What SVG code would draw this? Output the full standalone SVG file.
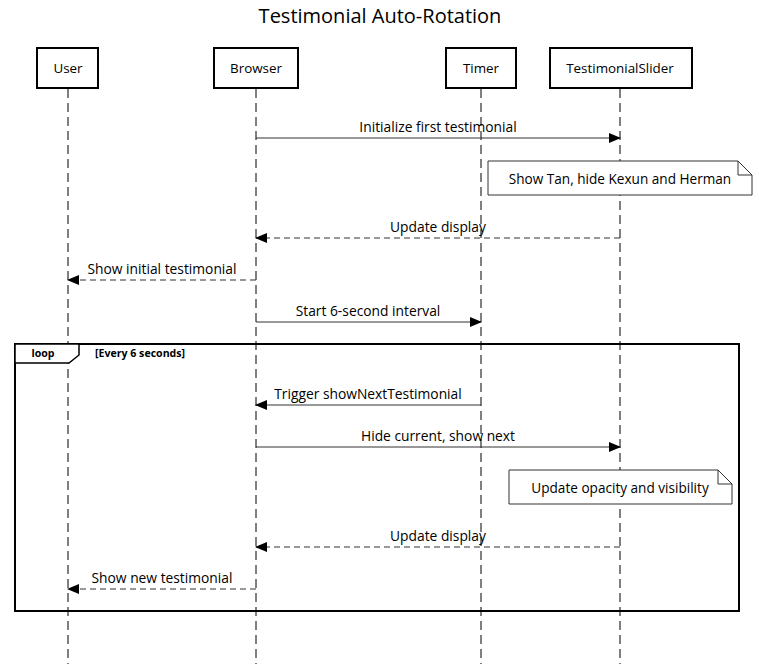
<svg xmlns="http://www.w3.org/2000/svg" width="759" height="664" viewBox="0 0 759 664">
<style>
text{font-family:"Open Sans","Noto Sans","Liberation Sans",sans-serif;fill:#000}
.title{font-size:20px;text-anchor:middle}
.actor rect{fill:#fff;stroke:#000;stroke-width:2}
.actor text{font-size:13.4px;text-anchor:middle;dominant-baseline:central}
.life{stroke:#000;stroke-width:1;stroke-dasharray:9,5}
.msg{stroke:#333;stroke-width:1;fill:none}
.dash{stroke-dasharray:6,4}
.mt{font-size:13.8px;text-anchor:middle}
.note path{fill:#fff;stroke:#333;stroke-width:1}
.note text{font-size:13.6px;text-anchor:middle;dominant-baseline:central}
.loop{fill:none;stroke:#000;stroke-width:2}
.lbl{font-size:10.6px;font-weight:bold}
</style>
<defs>
<marker id="ah" markerWidth="12" markerHeight="10" refX="11" refY="5" orient="auto" markerUnits="userSpaceOnUse">
<path d="M0,0 L12,5 L0,10 Z" fill="#000"/>
</marker>
</defs>
<rect width="759" height="664" fill="#fff"/>
<text class="title" x="380" y="23">Testimonial Auto-Rotation</text>

<g id="lifelines">
<line class="life" x1="68" y1="89" x2="68" y2="664"/>
<line class="life" x1="256" y1="89" x2="256" y2="664"/>
<line class="life" x1="481" y1="89" x2="481" y2="664"/>
<line class="life" x1="620" y1="89" x2="620" y2="664"/>
</g>

<g id="actor-user" class="actor"><rect x="37" y="48" width="61" height="40"/><text x="68" y="68">User</text></g>
<g id="actor-browser" class="actor"><rect x="214" y="48" width="84" height="40"/><text x="256" y="68">Browser</text></g>
<g id="actor-timer" class="actor"><rect x="446" y="48" width="70" height="40"/><text x="481" y="68">Timer</text></g>
<g id="actor-slider" class="actor"><rect x="550" y="48" width="142" height="40"/><text x="620" y="68">TestimonialSlider</text></g>

<g id="loop">
<rect class="loop" x="15" y="344" width="724" height="267"/>
<path d="M15,344 L79,344 L79,355 L69,363 L15,363 Z" fill="#fff" stroke="#000" stroke-width="1.5"/>
<text class="lbl" x="43" y="357" text-anchor="middle">loop</text>
<text class="lbl" x="95" y="357">[Every 6 seconds]</text>
</g>

<g id="connectors">
<line class="msg" x1="256" y1="138" x2="620" y2="138" marker-end="url(#ah)"/>
<text class="mt" x="438" y="132">Initialize first testimonial</text>
<line class="msg dash" x1="620" y1="238" x2="256" y2="238" marker-end="url(#ah)"/>
<text class="mt" x="438" y="232">Update display</text>
<line class="msg dash" x1="256" y1="280" x2="68" y2="280" marker-end="url(#ah)"/>
<text class="mt" x="162" y="274">Show initial testimonial</text>
<line class="msg" x1="256" y1="322" x2="481" y2="322" marker-end="url(#ah)"/>
<text class="mt" x="368" y="316">Start 6-second interval</text>
<line class="msg" x1="481" y1="405" x2="256" y2="405" marker-end="url(#ah)"/>
<text class="mt" x="368" y="399">Trigger showNextTestimonial</text>
<line class="msg" x1="256" y1="447" x2="620" y2="447" marker-end="url(#ah)"/>
<text class="mt" x="438" y="441">Hide current, show next</text>
<line class="msg dash" x1="620" y1="547" x2="256" y2="547" marker-end="url(#ah)"/>
<text class="mt" x="438" y="541">Update display</text>
<line class="msg dash" x1="256" y1="589" x2="68" y2="589" marker-end="url(#ah)"/>
<text class="mt" x="162" y="583">Show new testimonial</text>
</g>

<g id="note1" class="note">
<path d="M488,161 L738,161 L752,175 L752,195 L488,195 Z M738,161 L738,175 L752,175"/>
<text x="620" y="178">Show Tan, hide Kexun and Herman</text>
</g>
<g id="note2" class="note">
<path d="M509,470 L718,470 L732,484 L732,504 L509,504 Z M718,470 L718,484 L732,484"/>
<text x="620" y="487">Update opacity and visibility</text>
</g>
</svg>
